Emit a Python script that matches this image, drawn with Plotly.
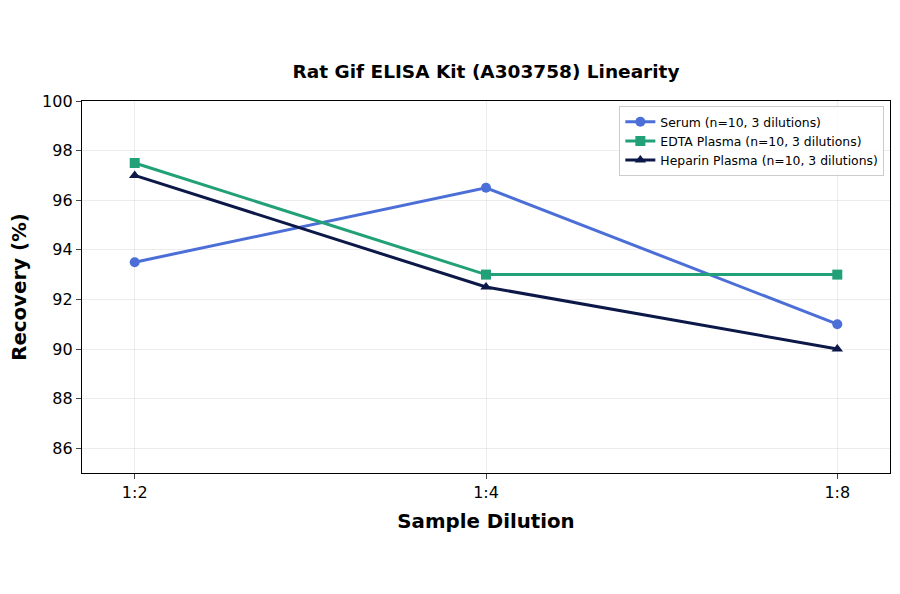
import plotly.graph_objects as go

dilutions = ["1:2", "1:4", "1:8"]
serum = [93.5, 96.5, 91.0]
edta = [97.5, 93.0, 93.0]
heparin = [97.0, 92.5, 90.0]
y_ticks = [86, 88, 90, 92, 94, 96, 98, 100]

fig = go.Figure()
series = [
    ("Serum (n=10, 3 dilutions)", serum, "#4C6FD7", "circle"),
    ("EDTA Plasma (n=10, 3 dilutions)", edta, "#22A077", "square"),
    ("Heparin Plasma (n=10, 3 dilutions)", heparin, "#0C1848", "triangle-up"),
]
for name, vals, color, sym in series:
    fig.add_trace(go.Scatter(
        x=list(range(len(dilutions))), y=vals, name=name, mode="lines+markers",
        line=dict(color=color, width=3),
        marker=dict(symbol=sym, size=10, color=color),
    ))

fig.update_layout(
    width=900, height=594,
    paper_bgcolor="white", plot_bgcolor="white",
    font=dict(family="DejaVu Sans", color="black"),
    margin=dict(l=74, r=18, t=93, b=129, autoexpand=False),
    title=dict(text="<b>Rat Gif ELISA Kit (A303758) Linearity</b>", x=0.5, xanchor="center",
               xref="paper", y=1 - 64 / 594, yanchor="middle", font=dict(size=18.5)),
    xaxis=dict(
        tickmode="array", tickvals=list(range(len(dilutions))), ticktext=dilutions,
        range=[-0.15, 2.15], showgrid=True, gridcolor="rgba(0,0,0,0.07)",
        showline=True, linecolor="black", linewidth=1.3, mirror=True,
        ticks="outside", ticklen=5, tickfont=dict(size=16), zeroline=False,
        automargin=False,
        title=dict(text="<b>Sample Dilution</b>", font=dict(size=19.8), standoff=12),
    ),
    yaxis=dict(
        tickvals=y_ticks, range=[85, 100], showgrid=True, gridcolor="rgba(0,0,0,0.07)",
        showline=True, linecolor="black", linewidth=1.3, mirror=True,
        ticks="outside", ticklen=5, tickfont=dict(size=16), zeroline=False,
        automargin=False,
        title=dict(text="<b>Recovery (%)</b>", font=dict(size=19.8), standoff=16),
    ),
    legend=dict(
        x=0.993, y=0.986, xanchor="right", yanchor="top",
        bgcolor="rgba(255,255,255,0.8)", bordercolor="#cccccc", borderwidth=1,
        font=dict(size=12.4), tracegroupgap=0,
    ),
)

fig.write_html("out.html")
